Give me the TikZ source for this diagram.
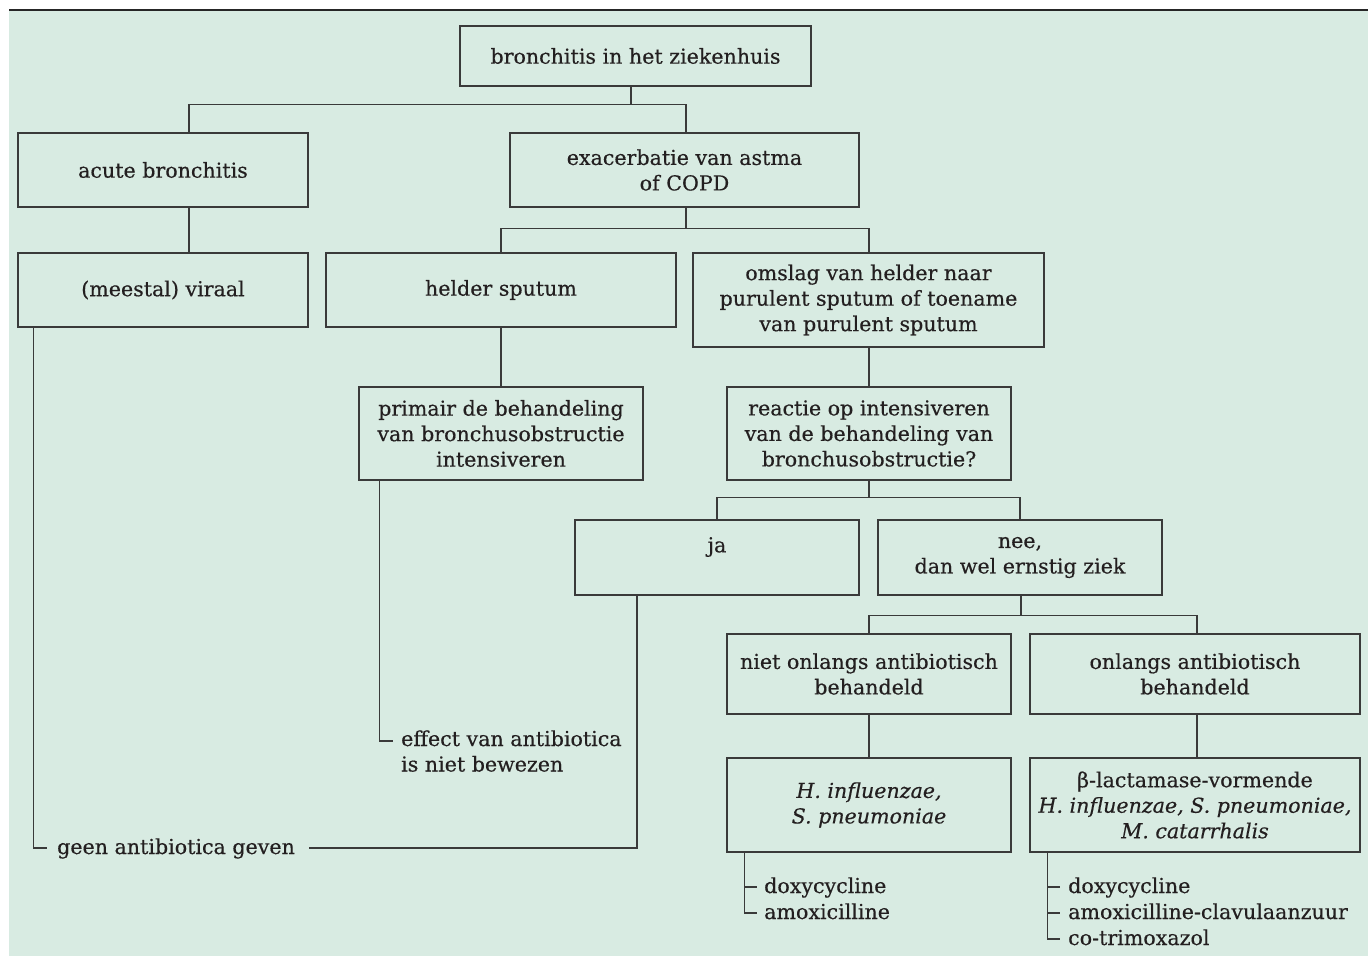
\documentclass[tikz,border=0pt]{standalone}
\usepackage{fontspec}
\setmainfont{DejaVu Serif}[FakeBold=0.4]
\definecolor{bgc}{HTML}{D8EBE2}
\definecolor{ink}{HTML}{231F20}
\definecolor{boxline}{HTML}{3A3A3A}
\begin{document}
\begin{tikzpicture}[x=1pt,y=-1pt,
  every node/.style={text=ink,font=\fontsize{20.6}{25.5}\selectfont},
  box/.style={draw=boxline,line width=1.3pt,align=center,inner sep=0pt},
  conn/.style={draw=boxline,line width=1.2pt},
  lst/.style={anchor=base west,inner sep=0pt,align=left}]
\useasboundingbox (0,0) rectangle (1368,956);
\fill[bgc] (9,11) rectangle (1368,956);
\draw[line width=2pt,black!85] (9,10) -- (1368,10);

\node[box,minimum width=351,minimum height=60] (root) at (635.5,56) {bronchitis in het ziekenhuis};
\node[box,minimum width=290,minimum height=74] (acute) at (163,170) {acute bronchitis};
\node[box,minimum width=349,minimum height=74] (exac) at (684.5,170) {exacerbatie van astma\\of COPD};
\node[box,minimum width=290,minimum height=74] (viraal) at (163,290) {(meestal) viraal};
\node[box,minimum width=350,minimum height=74] (helder) at (501,290) {helder sputum};
\node[box,minimum width=351,minimum height=94] (omslag) at (868.5,300) {omslag van helder naar\\purulent sputum of toename\\van purulent sputum};
\node[box,minimum width=284,minimum height=93] (primair) at (501,433.5) {primair de behandeling\\van bronchusobstructie\\intensiveren};
\node[box,minimum width=284,minimum height=93] (reactie) at (869,433.5) {reactie op intensiveren\\van de behandeling van\\bronchusobstructie?};
\node[box,minimum width=284,minimum height=75] (ja) at (717,557.5) {ja\\\mbox{}};
\node[box,minimum width=284,minimum height=75] (nee) at (1020,557.5) {nee,\\dan wel ernstig ziek};
\node[box,minimum width=284,minimum height=80] (niet) at (869,674) {niet onlangs antibiotisch\\behandeld};
\node[box,minimum width=330,minimum height=80] (onl) at (1195,674) {onlangs antibiotisch\\behandeld};
\node[box,minimum width=284,minimum height=94] (hinf) at (869,805) {\itshape H. influenzae,\\\itshape S. pneumoniae};
\node[box,minimum width=330,minimum height=94] (beta) at (1195,805) {β-lactamase-vormende\\\itshape H. influenzae, S. pneumoniae,\\\itshape M. catarrhalis};

\node[lst] (eff) at (401,771.5) {effect van antibiotica\\is niet bewezen};
\node[lst] (geen) at (57,854) {geen antibiotica geven};
\node[lst] (d1) at (764,893) {doxycycline};
\node[lst] (d2) at (764,919) {amoxicilline};
\node[lst] (e1) at (1068,893) {doxycycline};
\node[lst] (e2) at (1068,919) {amoxicilline-clavulaanzuur};
\node[lst] (e3) at (1068,945) {co-trimoxazol};

% tree connectors
\draw[conn] ([xshift=-4.5pt]root.south) -- ++(0,18) coordinate (b1);
\draw[conn] ([xshift=26pt]acute.north) |- (b1) -| ([xshift=1.5pt]exac.north);
\draw[conn] ([xshift=26pt]acute.south) -- ([xshift=26pt]viraal.north);
\draw[conn] ([xshift=1.5pt]exac.south) -- ++(0,21) coordinate (b2);
\draw[conn] (helder.north) |- (b2) -| ([xshift=0.5pt]omslag.north);
\draw[conn] (helder.south) -- (primair.north);
\draw[conn] ([xshift=0.5pt]omslag.south) -- (reactie.north);
\draw[conn] (reactie.south) -- ++(0,17) coordinate (b3);
\draw[conn] (ja.north) |- (b3) -| (nee.north);
\draw[conn] ([xshift=1pt]nee.south) -- ++(0,20) coordinate (b4);
\draw[conn] (niet.north) |- (b4) -| ([xshift=2pt]onl.north);
\draw[conn] (niet.south) -- (hinf.north);
\draw[conn] ([xshift=2pt]onl.south) -- ([xshift=2pt]beta.north);

% leaf connectors
\draw[conn] ([xshift=21pt]primair.south west) |- ([xshift=-8pt,yshift=30.5pt]eff.base west);
\draw[conn] ([xshift=16pt]viraal.south west) |- ([xshift=-10pt,yshift=6pt]geen.base west);
\draw[conn] ([xshift=-80pt]ja.south) |- ([xshift=14pt,yshift=6pt]geen.base east);

\draw[conn] ([xshift=18pt]hinf.south west) |- ([xshift=-7pt,yshift=6pt]d2.base west);
\draw[conn] ([xshift=-19pt,yshift=6pt]d1.base west) -- ([xshift=-7pt,yshift=6pt]d1.base west);

\draw[conn] ([xshift=18pt]beta.south west) |- ([xshift=-8pt,yshift=6pt]e3.base west);
\draw[conn] ([xshift=-20pt,yshift=6pt]e1.base west) -- ([xshift=-8pt,yshift=6pt]e1.base west);
\draw[conn] ([xshift=-20pt,yshift=6pt]e2.base west) -- ([xshift=-8pt,yshift=6pt]e2.base west);
\end{tikzpicture}
\end{document}
